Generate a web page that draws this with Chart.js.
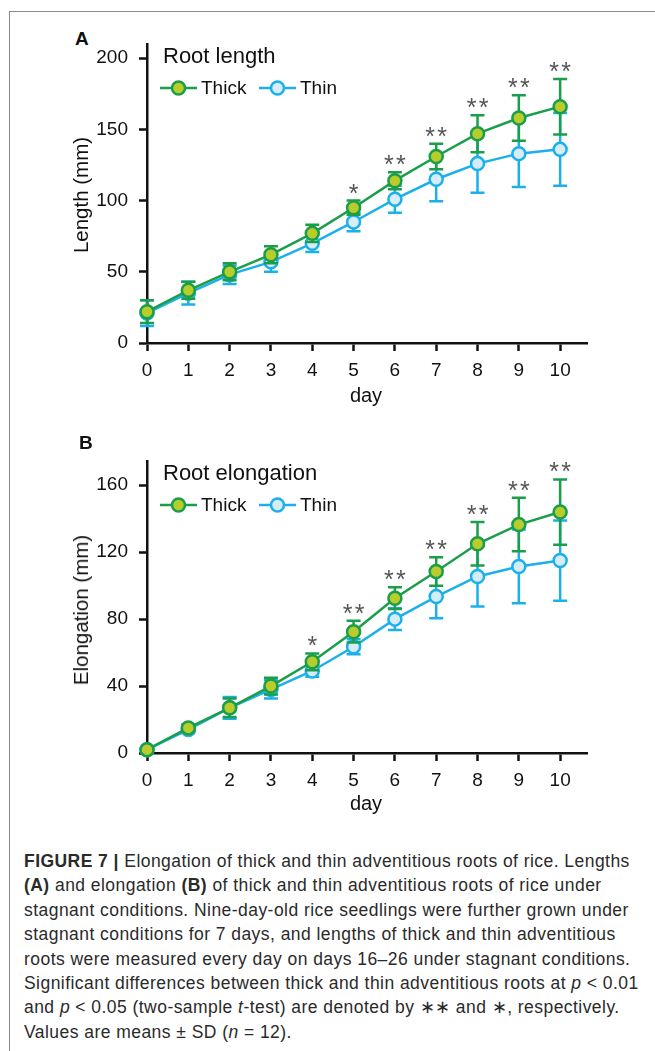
<!DOCTYPE html>
<html>
<head>
<meta charset="utf-8">
<script src="https://cdn.jsdelivr.net/npm/chart.js@4.4.1/dist/chart.umd.min.js"></script>
<style>
  body { margin: 0; width: 655px; height: 1051px; position: relative; background: #fff; overflow: hidden;
         font-family: "Liberation Sans", Arial, sans-serif; color: #111; }
  .frame { position: absolute; left: 9px; top: 11px; right: -2px; bottom: -2px;
           border-left: 1.5px solid #8a8a8a; border-top: 1.5px solid #8a8a8a; }
  .panel { position: absolute; left: 0; width: 655px; }
  .letter { position: absolute; font-weight: bold; font-size: 19px; line-height: 1; }
  .ytitle { position: absolute; font-size: 20.5px; white-space: nowrap; transform: translate(-50%, -50%) rotate(-90deg); }
  .xtitle { position: absolute; font-size: 20px; transform: translate(-50%, -50%); }
  .caption { position: absolute; left: 24px; top: 849px; font-family: "Liberation Sans", Arial, sans-serif;
             font-size: 17.5px; letter-spacing: 0.45px; line-height: 24.4px; color: #2a2a2a; white-space: nowrap; }
</style>
</head>
<body>
<div class="frame"></div>

<div class="letter" style="left:75px; top:29px;">A</div>
<div class="panel" style="top:0; height:410px;"><canvas id="lengthChart"></canvas></div>
<div class="ytitle" style="left:81px; top:195px;">Length (mm)</div>
<div class="xtitle" style="left:366px; top:395px;">day</div>

<div class="letter" style="left:79px; top:433px;">B</div>
<div class="panel" style="top:400px; height:420px;"><canvas id="elongChart"></canvas></div>
<div class="ytitle" style="left:81px; top:610px;">Elongation (mm)</div>
<div class="xtitle" style="left:366px; top:803px;">day</div>

<div class="caption">
<b>FIGURE 7 |</b> Elongation of thick and thin adventitious roots of rice. Lengths<br>
<b>(A)</b> and elongation <b>(B)</b> of thick and thin adventitious roots of rice under<br>
stagnant conditions. Nine-day-old rice seedlings were further grown under<br>
stagnant conditions for 7 days, and lengths of thick and thin adventitious<br>
roots were measured every day on days 16–26 under stagnant conditions.<br>
Significant differences between thick and thin adventitious roots at <i>p</i> &lt; 0.01<br>
and <i>p</i> &lt; 0.05 (two-sample <i>t</i>-test) are denoted by ∗∗ and ∗, respectively.<br>
Values are means ± SD (<i>n</i> = 12).
</div>

<script>
// days after start
const days = [0, 1, 2, 3, 4, 5, 6, 7, 8, 9, 10];

// Panel A - root length (mm)
const lengthThick = [22, 37, 50, 62, 77, 95, 114, 131, 147, 158, 166];
const lengthThickSD = [8, 6, 6, 6, 6, 5, 6, 9, 13, 16, 19.5];
const lengthThin = [21, 35, 48, 57, 70, 85, 101, 115, 126, 133, 136];
const lengthThinSD = [9, 8, 6.5, 7, 6, 6.5, 9.5, 15.5, 20.5, 23.5, 25.5];
const lengthStars = ["", "", "", "", "", "*", "**", "**", "**", "**", "**"];
const lengthTicks = [0, 50, 100, 150, 200];

// Panel B - root elongation (mm)
const elongThick = [2, 15, 27, 40, 54.5, 72.5, 92.5, 108.5, 125, 136.5, 144];
const elongThickSD = [1, 2, 5.5, 5, 5, 6.5, 6.5, 8.5, 13, 16, 19.5];
const elongThin = [2, 14, 27, 38, 49, 63.5, 80, 93.5, 105.5, 111.5, 115];
const elongThinSD = [1, 2, 6.5, 5.5, 3.5, 4.5, 6.5, 13, 18, 22, 24];
const elongStars = ["", "", "", "", "*", "**", "**", "**", "**", "**", "**"];
const elongTicks = [0, 40, 80, 120, 160];

const FONT = '"Liberation Sans", Arial, sans-serif';
const thickLine = "#1a9e4a", thickFill = "#b8cd2c";
const thinLine = "#1cb0ea", thinFill = "#d6edf9";

// error bars, title, legend and significance stars
const decor = {
  id: "decor",
  beforeDatasetDraw(chart, args) {
    const ds = chart.data.datasets[args.index];
    const xs = chart.scales.x, ys = chart.scales.y;
    const ctx = chart.ctx;
    ctx.save();
    ctx.strokeStyle = ds.borderColor;
    ctx.lineWidth = 2.5;
    ds.data.forEach((p, i) => {
      const px = xs.getPixelForValue(p.x);
      const top = ys.getPixelForValue(p.y + ds.sd[i]);
      const bot = ys.getPixelForValue(p.y - ds.sd[i]);
      ctx.beginPath();
      ctx.moveTo(px, top); ctx.lineTo(px, bot);
      ctx.moveTo(px - 7, top); ctx.lineTo(px + 7, top);
      ctx.moveTo(px - 7, bot); ctx.lineTo(px + 7, bot);
      ctx.stroke();
    });
    ctx.restore();
  },
  afterDraw(chart, args, opts) {
    const ctx = chart.ctx;
    const a = chart.chartArea;
    const xs = chart.scales.x, ys = chart.scales.y;
    ctx.save();
    ctx.fillStyle = "#111";
    ctx.font = "22px " + FONT;
    ctx.textBaseline = "middle";
    ctx.fillText(opts.title, a.left + 16, a.top + 13);

    // legend
    ctx.font = "19px " + FONT;
    const ly = a.top + 44;
    const items = [
      { x: a.left + 13, line: thickLine, fill: thickFill, text: "Thick" },
      { x: a.left + 112, line: thinLine, fill: thinFill, text: "Thin" }
    ];
    items.forEach(it => {
      ctx.strokeStyle = it.line;
      ctx.lineWidth = 2.5;
      ctx.beginPath(); ctx.moveTo(it.x, ly); ctx.lineTo(it.x + 37, ly); ctx.stroke();
      ctx.beginPath(); ctx.arc(it.x + 18.5, ly, 6.5, 0, Math.PI * 2);
      ctx.fillStyle = it.fill; ctx.fill(); ctx.stroke();
      ctx.fillStyle = "#111";
      ctx.fillText(it.text, it.x + 41, ly + 1);
    });

    // stars
    const [d0, d1] = chart.data.datasets;
    ctx.fillStyle = "#555";
    ctx.font = "25px " + FONT;
    ctx.textAlign = "center";
    ctx.textBaseline = "alphabetic";
    opts.stars.forEach((s, i) => {
      if (!s) return;
      const top = Math.max(d0.data[i].y + d0.sd[i], d1.data[i].y + d1.sd[i]);
      const px = xs.getPixelForValue(days[i]);
      const py = ys.getPixelForValue(top) + 1;
      if (s.length === 1) ctx.fillText("*", px, py);
      else { ctx.fillText("*", px - 6, py); ctx.fillText("*", px + 6, py); }
    });
    ctx.restore();
  }
};

function series(label, vals, sd, line, fill) {
  return {
    label, sd,
    data: days.map((d, i) => ({ x: d, y: vals[i] })),
    borderColor: line, backgroundColor: fill,
    pointBackgroundColor: fill, pointBorderColor: line,
    borderWidth: 2.5, pointBorderWidth: 2.5, pointRadius: 6.5, pointHoverRadius: 6.5,
    clip: false, tension: 0
  };
}

function makeChart(id, thick, thickSD, thin, thinSD, yMax, yTicks, stars, title, padTop) {
  new Chart(document.getElementById(id), {
    type: "line",
    data: {
      datasets: [
        series("Thick", thick, thickSD, thickLine, thickFill),
        series("Thin", thin, thinSD, thinLine, thinFill)
      ]
    },
    options: {
      responsive: true,
      maintainAspectRatio: false,
      animation: false,
      layout: { padding: { top: padTop, right: 68, left: 0, bottom: 0 } },
      plugins: {
        legend: { display: false },
        tooltip: { enabled: false },
        decor: { title, stars }
      },
      scales: {
        x: {
          type: "linear", min: 0, max: 10.65,
          afterBuildTicks: s => { s.ticks = days.map(v => ({ value: v })); },
          afterFit: s => { s.height = 67; },
          grid: { drawOnChartArea: false, tickLength: 8, tickWidth: 2.5, tickColor: "#111" },
          border: { color: "#111", width: 2.5 },
          ticks: { color: "#111", font: { size: 19, family: FONT }, padding: 8, maxRotation: 0, autoSkip: false }
        },
        y: {
          min: 0, max: yMax,
          afterBuildTicks: s => { s.ticks = yTicks.map(v => ({ value: v })); },
          afterFit: s => { s.width = 147; },
          grid: { drawOnChartArea: false, tickLength: 8, tickWidth: 2.5, tickColor: "#111" },
          border: { color: "#111", width: 2.5 },
          ticks: { color: "#111", font: { size: 19, family: FONT }, padding: 11 }
        }
      }
    },
    plugins: [decor]
  });
}

makeChart("lengthChart", lengthThick, lengthThickSD, lengthThin, lengthThinSD, 210, lengthTicks, lengthStars, "Root length", 44);
makeChart("elongChart", elongThick, elongThickSD, elongThin, elongThinSD, 174.5, elongTicks, elongStars, "Root elongation", 61);
</script>
</body>
</html>
